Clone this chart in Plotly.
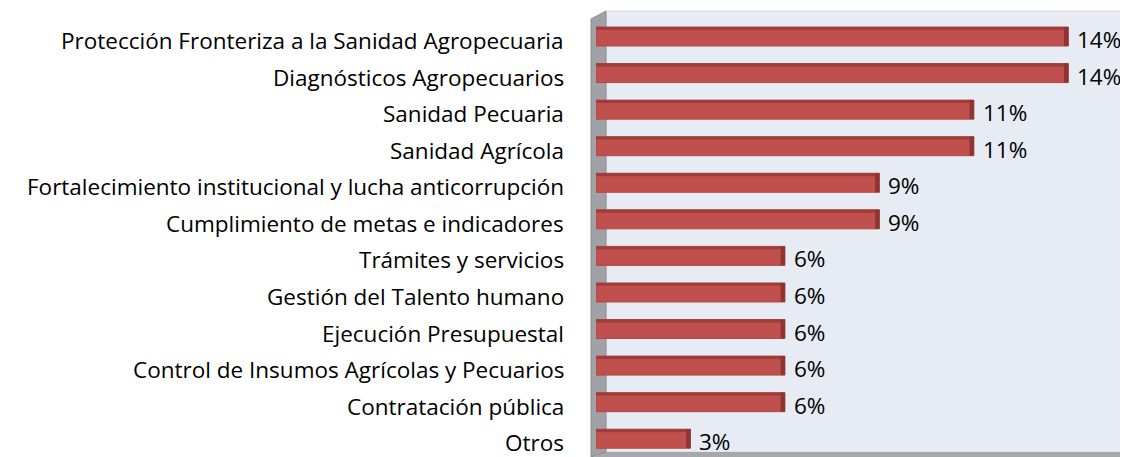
import plotly.graph_objects as go

categories = [
    "Protección Fronteriza a la Sanidad Agropecuaria",
    "Diagnósticos Agropecuarios",
    "Sanidad Pecuaria",
    "Sanidad Agrícola",
    "Fortalecimiento institucional y lucha anticorrupción",
    "Cumplimiento de metas e indicadores",
    "Trámites y servicios",
    "Gestión del Talento humano",
    "Ejecución Presupuestal",
    "Control de Insumos Agrícolas y Pecuarios",
    "Contratación pública",
    "Otros",
]
counts = [5, 5, 4, 4, 3, 3, 2, 2, 2, 2, 2, 1]
total = sum(counts)
values = [100.0 * c / total for c in counts]
labels = [f"{v:.0f}%" for v in values]

FONT = "Open Sans"
FS = 22.5
OFF = 8  # page body margin
W, H = 1128 - OFF, 457 - OFF
ML, MR, MT, MB = 596 - OFF, 3, 15 - OFF, 0
PW, PH = W - ML - MR, H - MT - MB

def px(x):
    return (x - OFF - ML) / PW

def py(y):
    return (H - MB - (y - OFF)) / PH

fig = go.Figure()
fig.add_trace(go.Bar(
    y=categories, x=values, orientation="h",
    marker=dict(color="#C0504D", line=dict(color="#B04845", width=1)),
    cliponaxis=False, width=0.52,
))

# 3D-like top strip and right face, derived from data
for i, v in enumerate(values):
    fig.add_shape(type="rect", xref="x", yref="y", x0=0, x1=v,
                  y0=i - 0.26, y1=i - 0.18, fillcolor="#9E3C39", line_width=0, layer="above")
    fig.add_shape(type="rect", xref="x", yref="y", x0=v - 0.13, x1=v,
                  y0=i - 0.26, y1=i + 0.26, fillcolor="#8E3431", line_width=0, layer="above")

# category labels and value labels
for cat, v, lab in zip(categories, values, labels):
    fig.add_annotation(x=0, y=cat, xref="x", yref="y", text=cat, showarrow=False,
                       xanchor="right", yanchor="middle", xshift=-30, yshift=-4,
                       font=dict(size=FS, family=FONT, color="#000000"))
    fig.add_annotation(x=v, y=cat, xref="x", yref="y", text=lab, showarrow=False,
                       xanchor="left", yanchor="middle", xshift=7, yshift=-3,
                       font=dict(size=FS, family=FONT, color="#000000"))

shapes = [
    # back wall
    dict(type="rect", xref="paper", yref="paper", x0=px(606), x1=px(1125), y0=py(452), y1=py(11),
         fillcolor="#E7EBF4", line=dict(color="#D6DAE2", width=1), layer="below"),
    # floor
    dict(type="path", xref="paper", yref="paper",
         path=f"M {px(592)} {py(457)} L {px(1120)} {py(457)} L {px(1125)} {py(452)} L {px(606)} {py(452)} Z",
         fillcolor="#A6A8AB", line_width=0, layer="below"),
    # side wall
    dict(type="path", xref="paper", yref="paper",
         path=f"M {px(591)} {py(19)} L {px(606)} {py(11)} L {px(606)} {py(452)} L {px(591)} {py(457)} Z",
         fillcolor="#A0A2A5", line=dict(color="#8A8C8F", width=1), layer="below"),
]
for s in shapes:
    fig.add_shape(**s)

fig.update_layout(
    width=W, height=H,
    margin=dict(l=ML, r=MR, t=MT, b=MB, autoexpand=False),
    paper_bgcolor="white", plot_bgcolor="rgba(0,0,0,0)",
    showlegend=False,
    font=dict(family=FONT, size=FS, color="#000000"),
    xaxis=dict(range=[0, 16], showgrid=False, zeroline=False, showticklabels=False,
               showline=False, automargin=False),
    yaxis=dict(autorange="reversed", showgrid=False, zeroline=False, showline=False, automargin=False,
               showticklabels=False, ticks=""),
    bargap=0.48,
)

fig.write_html("out.html")
